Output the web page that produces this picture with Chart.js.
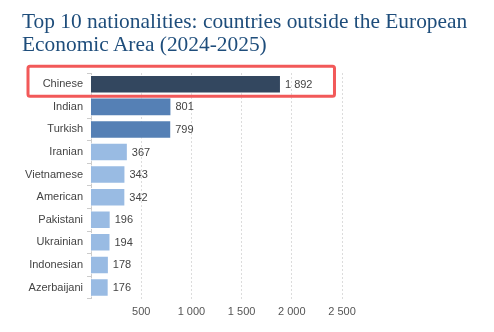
<!DOCTYPE html>
<html>
<head>
<meta charset="utf-8">
<script src="https://cdn.jsdelivr.net/npm/chart.js@4"></script>
<style>
  html, body { margin: 0; padding: 0; background: #fff; }
  #wrap { width: 494px; height: 332px; position: relative; }
  #title {
    position: absolute; left: 22px; top: 10px; margin: 0;
    font-family: "Liberation Serif", "DejaVu Serif", serif;
    font-size: 21.4px; line-height: 23px; font-weight: normal;
    color: #1e4d7b; white-space: nowrap;
  }
  canvas { position: absolute; left: 0; top: 0; }
</style>
</head>
<body>
<div id="wrap">
  <canvas id="c" width="494" height="332"></canvas>
  <h1 id="title"></h1>
</div>
<script>
const titleLines = ['Top 10 nationalities: countries outside the European', 'Economic Area (2024-2025)'];
const nationalities = ['Chinese', 'Indian', 'Turkish', 'Iranian', 'Vietnamese', 'American', 'Pakistani', 'Ukrainian', 'Indonesian', 'Azerbaijani'];
const students = [1892, 801, 799, 367, 343, 342, 196, 194, 178, 176];
const barColors = ['#33475f', '#5580b5', '#5580b5', '#99bbe3', '#99bbe3', '#99bbe3', '#99bbe3', '#99bbe3', '#99bbe3', '#99bbe3'];
const xTicks = [500, 1000, 1500, 2000, 2500];
const highlighted = 'Chinese';

const titleEl = document.getElementById('title');
titleLines.forEach((line, i) => {
  if (i) titleEl.appendChild(document.createElement('br'));
  titleEl.appendChild(document.createTextNode(line));
});

const labelFont = '11px "Liberation Sans", Arial, sans-serif';

function spaced(n) {
  return String(n).replace(/\B(?=(\d{3})+(?!\d))/g, ' ');
}

// value labels to the right of each bar, plus the outline around the highlighted row
const annotate = {
  id: 'annotate',
  afterDatasetsDraw(chart) {
    const ctx = chart.ctx;
    const meta = chart.getDatasetMeta(0);
    ctx.save();
    ctx.font = labelFont;
    ctx.fillStyle = '#444';
    ctx.textBaseline = 'middle';
    ctx.textAlign = 'left';
    meta.data.forEach((bar, i) => {
      ctx.fillText(spaced(students[i]), bar.x + 4, bar.y + 0.5);
    });
    const idx = nationalities.indexOf(highlighted);
    if (idx >= 0) {
      const bar = meta.data[idx];
      const tw = ctx.measureText(spaced(students[idx])).width;
      const left = 28;
      const right = bar.x + 4 + tw + 22;
      const top = bar.y - 18;
      const bottom = bar.y + 12;
      ctx.strokeStyle = '#f25959';
      ctx.lineWidth = 3;
      ctx.beginPath();
      ctx.roundRect(left, top, right - left, bottom - top, 2);
      ctx.stroke();
    }
    ctx.restore();
  }
};

new Chart(document.getElementById('c'), {
  type: 'bar',
  data: {
    labels: nationalities,
    datasets: [{
      data: students,
      backgroundColor: barColors,
      borderColor: 'rgba(255,255,255,0.9)',
      borderWidth: 1,
      categoryPercentage: 1,
      barPercentage: 0.82
    }]
  },
  options: {
    indexAxis: 'y',
    responsive: false,
    animation: false,
    devicePixelRatio: 1,
    layout: { padding: { left: 0, right: 152, top: 73, bottom: 6 } },
    plugins: {
      legend: { display: false },
      tooltip: { enabled: false },
      title: { display: false }
    },
    scales: {
      x: {
        min: 0,
        max: 2500,
        afterBuildTicks(scale) {
          scale.ticks = xTicks.map(v => ({ value: v }));
        },
        grid: {
          color: '#dcdcdc',
          lineWidth: 1,
          drawTicks: false
        },
        border: { display: false, dash: [2, 2] },
        ticks: {
          color: '#555',
          font: { family: '"Liberation Sans", Arial, sans-serif', size: 11 },
          padding: 7,
          callback: v => spaced(v)
        }
      },
      y: {
        afterFit(scale) { scale.width = 91; },
        grid: {
          drawOnChartArea: false,
          drawTicks: true,
          tickLength: 4,
          color: '#cccccc'
        },
        border: { display: true, color: '#cccccc' },
        ticks: {
          color: '#444',
          font: { family: '"Liberation Sans", Arial, sans-serif', size: 11 },
          padding: 4
        }
      }
    }
  },
  plugins: [annotate]
});
</script>
</body>
</html>
